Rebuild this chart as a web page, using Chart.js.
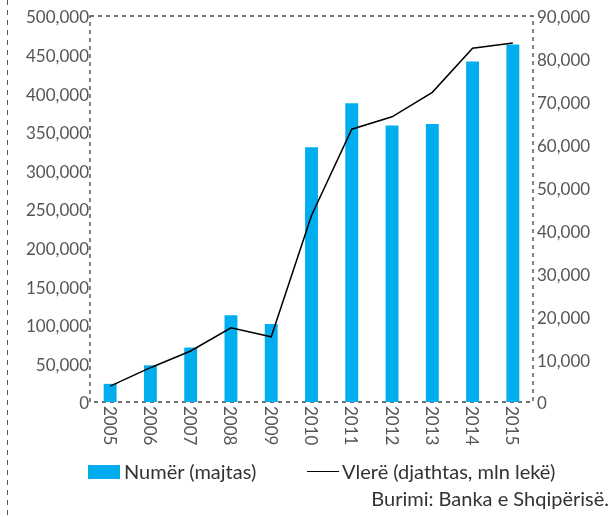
<!DOCTYPE html>
<html>
<head>
<meta charset="utf-8">
<script src="https://cdn.jsdelivr.net/npm/chart.js@4"></script>
<style>
  body { margin: 0; background: #fff; }
  #wrap { position: relative; width: 611px; height: 517px; font-family: Lato, "Open Sans", sans-serif; color: #333; }
  #wrap .lbl { position: absolute; font-size: 20px; line-height: 20px; white-space: nowrap; }
  #box { position: absolute; left: 88px; top: 465px; width: 32px; height: 14px; background: #00aeef; }
  #dash { position: absolute; left: 307px; top: 471px; width: 32px; height: 0; border-top: 1.5px solid #000; }
</style>
</head>
<body>
<div id="wrap">
  <canvas id="chart"></canvas>
  <div id="box"></div>
  <div class="lbl" style="left:124px; top:461px;">Numër (majtas)</div>
  <div id="dash"></div>
  <div class="lbl" style="left:342px; top:461px;">Vlerë (djathtas, mln lekë)</div>
  <div class="lbl" style="right:2px; top:488px;">Burimi: Banka e Shqipërisë.</div>
</div>
<script>
const years = ["2005", "2006", "2007", "2008", "2009", "2010", "2011", "2012", "2013", "2014", "2015"];
const numri = [23500, 47500, 70500, 112500, 101000, 330000, 387000, 358000, 360000, 441000, 463000];
const vlera = [3700, 8000, 11900, 17300, 15200, 43500, 63600, 66500, 72200, 82500, 83700];

const fmt = v => v.toLocaleString("en-US");

// dashed frame round the plot, the page line on the left and the rotated year labels
const frame = {
    id: "frame",
    beforeDatasetsDraw(chart) {
        const { ctx, chartArea: a } = chart;
        ctx.save();
        ctx.setLineDash([4, 4]);
        ctx.strokeStyle = "#444";
        ctx.lineWidth = 1.3;
        ctx.strokeRect(a.left, a.top, a.right - a.left, a.bottom - a.top);
        ctx.setLineDash([5, 5]);
        ctx.strokeStyle = "#555";
        ctx.lineWidth = 1;
        ctx.beginPath();
        ctx.moveTo(7.5, 0);
        ctx.lineTo(7.5, chart.height);
        ctx.stroke();
        ctx.restore();
    },
    afterDraw(chart) {
        const { ctx, chartArea: a } = chart;
        const x = chart.scales.x;
        ctx.save();
        ctx.font = "17px Lato";
        ctx.fillStyle = "#555";
        ctx.textAlign = "left";
        ctx.textBaseline = "middle";
        years.forEach((y, i) => {
            ctx.save();
            ctx.translate(x.getPixelForTick(i) - 1, a.bottom + 4);
            ctx.rotate(Math.PI / 2);
            ctx.fillText(y, 0, 0);
            ctx.restore();
        });
        ctx.restore();
    }
};

new Chart(document.getElementById("chart"), {
    type: "bar",
    data: {
        labels: years,
        datasets: [{
            label: "Numër (majtas)",
            data: numri,
            backgroundColor: "#00aeef",
            categoryPercentage: 1,
            barPercentage: 0.32,
            yAxisID: "y",
            order: 1
        }, {
            type: "line",
            label: "Vlerë (djathtas, mln lekë)",
            data: vlera,
            borderColor: "#000",
            borderWidth: 1.5,
            pointRadius: 0,
            tension: 0,
            yAxisID: "y1",
            order: 0
        }]
    },
    options: {
        responsive: true,
        maintainAspectRatio: false,
        animation: false,
        layout: { padding: { top: 16, bottom: 62, left: 0, right: 0 } },
        plugins: { legend: { display: false }, tooltip: { enabled: false } },
        scales: {
            x: {
                grid: { display: false, drawTicks: false },
                border: { display: false },
                ticks: { display: false },
                afterFit(s) { s.height = 53; }
            },
            y: {
                position: "left",
                min: 0, max: 500000,
                grid: { display: false, drawTicks: false },
                border: { display: false },
                ticks: { stepSize: 50000, padding: 1, labelOffset: 2, color: "#555", font: { family: "Lato", size: 17 }, callback: fmt },
                afterFit(s) { s.width = 90; }
            },
            y1: {
                position: "right",
                min: 0, max: 90000,
                grid: { display: false, drawTicks: false },
                border: { display: false },
                ticks: { stepSize: 10000, padding: 4, labelOffset: 2, color: "#555", font: { family: "Lato", size: 17 }, callback: fmt },
                afterFit(s) { s.width = 78; }
            }
        }
    },
    plugins: [frame]
});
</script>
</body>
</html>
